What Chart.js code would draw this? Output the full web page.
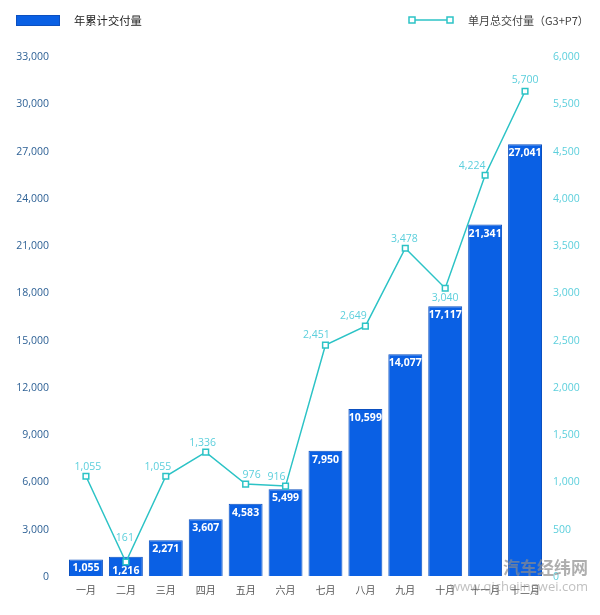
<!DOCTYPE html>
<html>
<head>
<meta charset="utf-8">
<style>
    html, body { margin: 0; padding: 0; background: #fff; }
    #wrap { width: 600px; height: 615px; }
</style>
<script src="https://cdn.jsdelivr.net/npm/chart.js@4"></script>
</head>
<body>
<div id="wrap"><canvas id="chart" width="600" height="615"></canvas></div>
<script>
const months = ['一月', '二月', '三月', '四月', '五月', '六月', '七月', '八月', '九月', '十月', '十一月', '十二月'];

// bar heights as read against the left axis, the printed figures sit in cumulativeLabels
const cumulative = [1055, 1216, 2271, 3607, 4583, 5499, 7950, 10599, 14077, 17117, 22300, 27400];
const cumulativeLabels = ['1,055', '1,216', '2,271', '3,607', '4,583', '5,499', '7,950', '10,599', '14,077', '17,117', '21,341', '27,041'];

// points as read against the right axis, the printed figures sit in monthlyLabels
const monthly = [1055, 148, 1055, 1311, 972, 951, 2442, 2643, 3467, 3044, 4239, 5127];
const monthlyLabels = ['1,055', '161', '1,055', '1,336', '976', '916', '2,451', '2,649', '3,478', '3,040', '4,224', '5,700'];

const leftTicks = ['0', '3,000', '6,000', '9,000', '12,000', '15,000', '18,000', '21,000', '24,000', '27,000', '30,000', '33,000'];
// the reference skips 5,000 on its right axis
const rightTicks = ['0', '500', '1,000', '1,500', '2,000', '2,500', '3,000', '3,500', '4,000', '4,500', '5,500', '6,000'];

const barName = '年累计交付量';
const lineName = '单月总交付量（G3+P7）';

const BAR_BLUE = '#0a60e4';
const BAR_EDGE = '#0c50c0';
const TEAL = '#2cc3c6';
const TEAL_TEXT = '#5ccfdc';
const LEFT_TEXT = '#2f6296';
const FONT = '"Open Sans", "Noto Sans CJK SC", sans-serif';
const CJK = '"Noto Sans CJK SC", sans-serif';

// nudges for the line labels, dx / dy from the point
const lineLabelNudge = [[2, -9], [-1, -24], [-8, -9], [-3, -9], [6, -9], [-9, -9], [-9, -10], [-12, -10], [-1, -9], [0, 10], [-13, -9], [0, -11]];

const labelsPlugin = {
    id: 'valueLabels',
    afterDatasetsDraw(chart) {
        const ctx = chart.ctx;
        ctx.save();
        ctx.textAlign = 'center';
        ctx.textBaseline = 'middle';

        ctx.font = 'bold 10.5px ' + FONT;
        ctx.fillStyle = '#ffffff';
        chart.getDatasetMeta(0).data.forEach((bar, i) => {
            ctx.fillText(cumulativeLabels[i], bar.x, bar.y + (i === 1 ? 14 : 9));
        });

        ctx.font = '10.5px ' + FONT;
        ctx.fillStyle = TEAL_TEXT;
        chart.getDatasetMeta(1).data.forEach((pt, i) => {
            const n = lineLabelNudge[i];
            ctx.fillText(monthlyLabels[i], pt.x + n[0], pt.y + n[1]);
        });
        ctx.restore();
    }
};

const legendPlugin = {
    id: 'splitLegend',
    afterDraw(chart) {
        const ctx = chart.ctx;
        ctx.save();
        ctx.textBaseline = 'middle';
        ctx.textAlign = 'left';

        // left entry
        ctx.fillStyle = BAR_BLUE;
        ctx.fillRect(16, 15, 44, 11);
        ctx.strokeStyle = BAR_EDGE;
        ctx.strokeRect(16.5, 15.5, 43, 10);
        ctx.font = '11.3px ' + CJK;
        ctx.fillStyle = '#222222';
        ctx.fillText(barName, 74, 20.5);

        // right entry
        ctx.strokeStyle = TEAL;
        ctx.lineWidth = 1.5;
        ctx.beginPath();
        ctx.moveTo(412, 20);
        ctx.lineTo(450, 20);
        ctx.stroke();
        [412, 450].forEach(x => {
            ctx.fillStyle = '#ffffff';
            ctx.fillRect(x - 3, 17, 6, 6);
            ctx.strokeRect(x - 3, 17, 6, 6);
        });
        ctx.font = '11px ' + CJK;
        ctx.fillStyle = '#444444';
        ctx.fillText(lineName, 468, 20.5);

        // site watermark over the lower right corner
        ctx.textAlign = 'right';
        ctx.font = 'bold 17px ' + CJK;
        ctx.fillStyle = 'rgba(140,140,140,0.7)';
        ctx.fillText('汽车经纬网', 588, 568);
        ctx.font = '13px ' + FONT;
        ctx.fillStyle = 'rgba(150,150,150,0.6)';
        ctx.fillText('www.qichejingwei.com', 588, 587);
        ctx.restore();
    }
};

new Chart(document.getElementById('chart').getContext('2d'), {
    data: {
        labels: months,
        datasets: [
            {
                type: 'bar',
                label: barName,
                data: cumulative,
                yAxisID: 'yLeft',
                backgroundColor: BAR_BLUE,
                borderColor: BAR_EDGE,
                borderWidth: 1,
                barPercentage: 0.85,
                categoryPercentage: 1,
                order: 2
            },
            {
                type: 'line',
                label: lineName,
                data: monthly,
                yAxisID: 'yRight',
                borderColor: TEAL,
                borderWidth: 1.5,
                tension: 0,
                pointStyle: 'rect',
                pointRadius: 4,
                pointBorderWidth: 1.5,
                pointBorderColor: TEAL,
                pointBackgroundColor: '#ffffff',
                order: 1
            }
        ]
    },
    options: {
        responsive: false,
        animation: false,
        devicePixelRatio: 1,
        layout: { padding: { top: 56, left: 0, right: 0, bottom: 0 } },
        plugins: { legend: { display: false }, tooltip: { enabled: false } },
        scales: {
            x: {
                grid: { display: false, drawTicks: false },
                border: { display: false },
                ticks: { color: '#555555', font: { family: CJK, size: 10 }, padding: 8, maxRotation: 0, autoSkip: false },
                afterFit: s => { s.height = 39; }
            },
            yLeft: {
                position: 'left',
                min: 0,
                max: 33000,
                grid: { display: false, drawTicks: false },
                border: { display: false },
                ticks: {
                    stepSize: 3000,
                    color: LEFT_TEXT,
                    font: { family: FONT, size: 10.5 },
                    padding: 17,
                    labelOffset: 1,
                    callback: (v, i) => leftTicks[i]
                },
                afterFit: s => { s.width = 66; }
            },
            yRight: {
                position: 'right',
                min: 0,
                max: 5500,
                grid: { display: false, drawTicks: false },
                border: { display: false },
                ticks: {
                    stepSize: 500,
                    color: TEAL_TEXT,
                    font: { family: FONT, size: 10.5 },
                    padding: 8,
                    labelOffset: 1,
                    callback: (v, i) => rightTicks[i]
                },
                afterFit: s => { s.width = 55; }
            }
        }
    },
    plugins: [labelsPlugin, legendPlugin]
});
</script>
</body>
</html>
